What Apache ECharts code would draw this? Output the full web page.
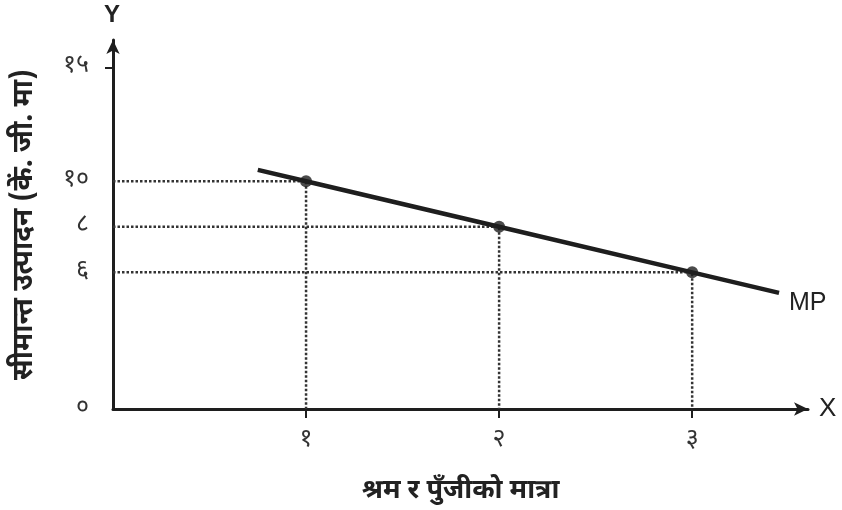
<!DOCTYPE html>
<html><head><meta charset="utf-8">
<script src="https://cdn.jsdelivr.net/npm/echarts@6/dist/echarts.min.js"></script>
<style>html,body{margin:0;padding:0;background:#fff}#c{width:842px;height:510px}</style>
</head><body><div id="c"></div>
<script>
// Data
const pointX = [1, 2, 3];
const pointY = [10, 8, 6];
const mpX = [0.75, 1, 2, 3, 3.45];
const mpY = [10.5, 10, 8, 6, 5.1];
const xTickValues = [1, 2, 3];
const xTickLabels = {1: '१', 2: '२', 3: '३'};
const yTickValues = [0, 6, 8, 10, 15];
const yTickLabels = {0: '०', 6: '६', 8: '८', 10: '१०', 15: '१५'};
const xTitle = 'श्रम र पुँजीको मात्रा';
const yTitle = 'सीमान्त उत्पादन (कें. जी. मा)';

const ink = '#1e1e1e';
const dev = '"Noto Sans Devanagari","Lohit Devanagari","Noto Serif Devanagari",sans-serif';
const latin = 'Liberation Sans, Arial, sans-serif';

const guideSeries = pointX.map((x, i) => ({
  type: 'line', silent: true, symbol: 'none', z: 1,
  lineStyle: {color: '#333', width: 2.5, type: [2.5, 2]},
  data: [[0, pointY[i]], [x, pointY[i]], [x, 0]]
}));

const chart = echarts.init(document.getElementById('c'), null, {renderer: 'canvas'});
chart.setOption({
  animation: false,
  backgroundColor: '#fff',
  grid: {left: 113, right: 34, top: 40, bottom: 101, outerBoundsMode: 'none', containLabel: false},
  xAxis: {
    type: 'value', min: 0, max: 3.6,
    splitLine: {show: false},
    axisLine: {lineStyle: {color: ink, width: 3}, symbol: ['none', 'arrow'], symbolSize: [10, 14]},
    axisTick: {show: true, customValues: xTickValues, length: 9, lineStyle: {color: ink, width: 2}},
    axisLabel: {customValues: xTickValues, formatter: v => xTickLabels[v] || '', margin: 20,
      color: '#333', fontSize: 25, fontFamily: dev},
    name: xTitle, nameLocation: 'middle', nameGap: 70,
    nameTextStyle: {color: '#222', fontSize: 27, fontWeight: 'bold', fontFamily: dev}
  },
  yAxis: {
    type: 'value', min: 0, max: 16.2,
    splitLine: {show: false},
    axisLine: {lineStyle: {color: ink, width: 3}, symbol: ['none', 'arrow'], symbolSize: [10, 14]},
    axisTick: {show: true, customValues: [15], length: 8, lineStyle: {color: ink, width: 2}},
    axisLabel: {customValues: yTickValues, formatter: v => yTickLabels[v] || '', margin: 24,
      color: '#333', fontSize: 25, fontFamily: dev},
    name: yTitle, nameLocation: 'middle', nameGap: 72, nameRotate: 90,
    nameTextStyle: {color: '#222', fontSize: 28, fontWeight: 'bold', fontFamily: dev}
  },
  graphic: [
    {type: 'text', left: 104, top: 3, style: {text: 'Y', fontSize: 24, fontWeight: 'bold', fill: '#222', fontFamily: latin}},
    {type: 'text', left: 819, top: 396, style: {text: 'X', fontSize: 26, fill: '#222', fontFamily: latin}}
  ],
  series: guideSeries.concat([
    {
      type: 'line', z: 3, symbol: 'none',
      lineStyle: {color: ink, width: 4.5},
      data: mpX.map((x, i) => [x, mpY[i]]),
      endLabel: {show: true, formatter: 'MP', offset: [2, 10], fontSize: 25, color: '#222', fontFamily: latin}
    },
    {
      type: 'scatter', z: 4, symbolSize: 12,
      itemStyle: {color: ink},
      data: pointX.map((x, i) => [x, pointY[i]])
    }
  ])
});
</script>
</body></html>
